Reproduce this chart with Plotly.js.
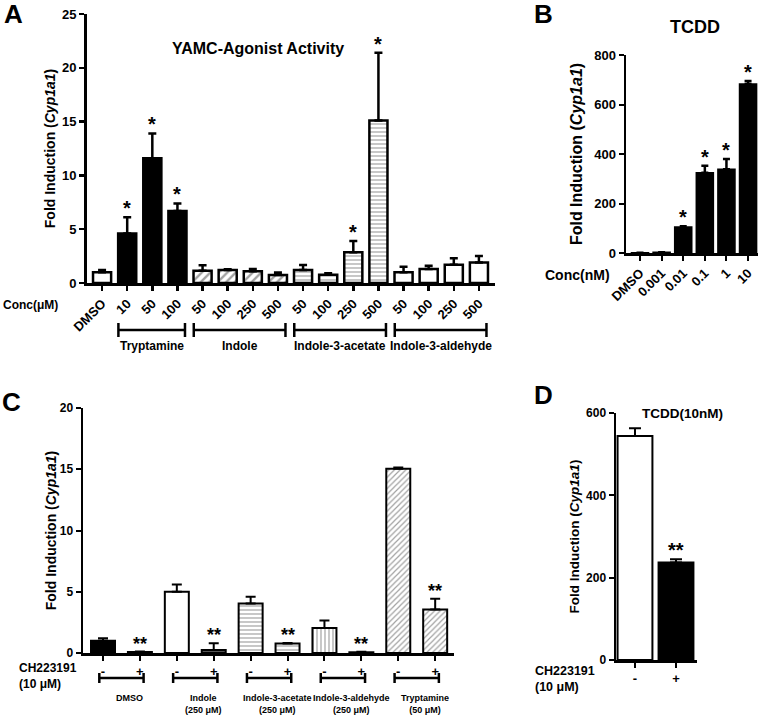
<!DOCTYPE html>
<html><head><meta charset="utf-8">
<script src="https://cdn.plot.ly/plotly-3.0.1.min.js"></script>
<style>html,body{margin:0;padding:0;background:#fff}#chart{width:763px;height:715px}</style>
</head><body><div id="chart"></div>
<script>
// ---------- Panel A data ----------
const aTickLabels = ['DMSO','10','50','100','50','100','250','500','50','100','250','500','50','100','250','500'];
const aGroups = ['DMSO','Tryptamine','Tryptamine','Tryptamine','Indole','Indole','Indole','Indole',
  'Indole-3-acetate','Indole-3-acetate','Indole-3-acetate','Indole-3-acetate',
  'Indole-3-aldehyde','Indole-3-aldehyde','Indole-3-aldehyde','Indole-3-aldehyde'];
const aValues = [1.0, 4.6, 11.6, 6.7, 1.15, 1.2, 1.1, 0.75, 1.2, 0.77, 2.85, 15.1, 1.0, 1.3, 1.7, 1.9];
const aErrors = [0.2, 1.5, 2.3, 0.7, 0.5, 0.07, 0.2, 0.22, 0.47, 0.13, 1.05, 6.3, 0.5, 0.3, 0.6, 0.6];
const aStars = ['', '*', '*', '*', '', '', '', '', '', '', '*', '*', '', '', '', ''];
const aBracketGroups = ['Tryptamine','Indole','Indole-3-acetate','Indole-3-aldehyde'];

// ---------- Panel B data ----------
const bTickLabels = ['DMSO','0.001','0.01','0.1','1','10'];
const bValues = [1, 3, 105, 324, 338, 683];
const bErrors = [0, 0, 3, 29, 42, 12];
const bStars = ['', '', '*', '*', '*', '*'];

// ---------- Panel C data ----------
const cTickLabels = ['-','+','-','+','-','+','-','+','-','+'];
const cGroups = ['DMSO','DMSO','Indole','Indole','Indole-3-acetate','Indole-3-acetate',
  'Indole-3-aldehyde','Indole-3-aldehyde','Tryptamine','Tryptamine'];
const cValues = [1.0, 0.08, 5.0, 0.25, 4.04, 0.78, 2.05, 0.06, 15.05, 3.55];
const cErrors = [0.2, 0.04, 0.6, 0.55, 0.55, 0.04, 0.6, 0.05, 0.1, 0.88];
const cStars = ['', '**', '', '**', '', '**', '', '**', '', '**'];
const cGroupNames = ['DMSO','Indole','Indole-3-acetate','Indole-3-aldehyde','Tryptamine'];
const cGroupConc = ['', '(250 μM)', '(250 μM)', '(250 μM)', '(50 μM)'];

// ---------- Panel D data ----------
const dTickLabels = ['-','+'];
const dValues = [544, 237];
const dErrors = [19, 8];
const dStars = ['', '**'];

// ---------- styles ----------
const W = 763, H = 715;
const px = v => v / W, py = v => 1 - v / H;
const FONT = 'Arial, "Liberation Sans", sans-serif';
const aStyle = {
  'DMSO': {color:'white', shape:'', size:6, sol:0.3},
  'Tryptamine': {color:'black', shape:'', size:6, sol:0.3},
  'Indole': {color:'white', shape:'/', size:6, sol:0.4},
  'Indole-3-acetate': {color:'white', shape:'-', size:4, sol:0.3},
  'Indole-3-aldehyde': {color:'white', shape:'', size:6, sol:0.3}
};
const cStyleMinus = {
  'DMSO': {color:'black', shape:''},
  'Indole': {color:'white', shape:''},
  'Indole-3-acetate': {color:'white', shape:'-'},
  'Indole-3-aldehyde': {color:'white', shape:'|'},
  'Tryptamine': {color:'white', shape:'/'}
};
const cStylePlus = Object.assign({}, cStyleMinus, {'Indole': {color:'#555', shape:''}});

const idx = arr => arr.map((_, i) => i);
const zeros = arr => arr.map(() => 0);

function errBar(errs, th, w) {
  return {type:'data', symmetric:false, array:errs, arrayminus:zeros(errs), color:'black', thickness:th, width:w, visible:true};
}

const traceA = {
  type:'bar', x: idx(aValues), y: aValues, xaxis:'x', yaxis:'y', width:0.72,
  marker:{color: aGroups.map(g => aStyle[g].color), line:{color:'black', width:2.5},
    pattern:{shape: aGroups.map(g => aStyle[g].shape), fillmode:'overlay', fgcolor:'black',
      size: aGroups.map(g => aStyle[g].size), solidity: aGroups.map(g => aStyle[g].sol)}},
  error_y: errBar(aErrors, 2.5, 4), showlegend:false
};
const traceB = {
  type:'bar', x: idx(bValues), y: bValues, xaxis:'x2', yaxis:'y2', width:0.79,
  marker:{color:'black', line:{color:'black', width:1.5}},
  error_y: errBar(bErrors, 2.5, 3.5), showlegend:false
};
const cStyles = cGroups.map((g, i) => (i % 2 === 0 ? cStyleMinus : cStylePlus)[g]);
const traceC = {
  type:'bar', x: idx(cValues), y: cValues, xaxis:'x3', yaxis:'y3', width:0.65,
  marker:{color: cStyles.map(s => s.color), line:{color:'black', width:2},
    pattern:{shape: cStyles.map(s => s.shape), fillmode:'overlay', fgcolor:'black', size:4, solidity:0.3}},
  error_y: errBar(cErrors, 2, 5), showlegend:false
};
const traceD = {
  type:'bar', x: idx(dValues), y: dValues, xaxis:'x4', yaxis:'y4', width:0.85,
  marker:{color:['white','black'], line:{color:'black', width:2}},
  error_y: errBar(dErrors, 2, 6), showlegend:false
};

const titleText = 'Fold Induction (<i>Cyp1a1</i>)';
function yax(domain, range, dtick, lw, fs, tfs, standoff) {
  return {domain, range, dtick, showgrid:false, zeroline:false, showline:true, linecolor:'black', linewidth:lw,
    ticks:'outside', ticklen:5, tickwidth:lw - 0.5, tickcolor:'black', automargin:false, fixedrange:true,
    tickfont:{family:FONT, size:fs, color:'black', weight:'bold'},
    title:{text:titleText, standoff, font:{family:FONT, size:tfs, color:'black', weight:'bold'}}};
}
function xax(domain, range, vals, texts, angle, lw, fs, anchor) {
  return {domain, range, tickvals:vals, ticktext:texts, tickangle:angle, showgrid:false, zeroline:false,
    showline:true, linecolor:'black', linewidth:lw, ticks:'outside', ticklen:5, tickwidth:lw - 0.5,
    tickcolor:'black', automargin:false, fixedrange:true, anchor,
    tickfont:{family:FONT, size:fs, color:'black', weight:'bold'}};
}

const layout = {
  width:W, height:H, margin:{l:0, r:0, t:0, b:0}, paper_bgcolor:'white', plot_bgcolor:'white',
  showlegend:false, bargap:0,
  xaxis:  xax([px(87), px(495)], [-0.6, 15.64], idx(aValues), aTickLabels, -45, 3, 13, 'y'),
  yaxis:  yax([py(283), py(14)], [0, 25], 5, 3, 13, 14, 4),
  xaxis2: xax([px(626), px(758)], [-0.648, 5.46], idx(bValues), bTickLabels, -45, 2.5, 13, 'y2'),
  yaxis2: yax([py(253), py(55)], [0, 800], 200, 2.5, 13, 16, 8),
  xaxis3: xax([px(83), px(454)], [-0.542, 9.51], idx(cValues), cTickLabels, 0, 2.5, 13, 'y3'),
  yaxis3: yax([py(653), py(408)], [0, 20], 5, 2.5, 12, 14, 0),
  xaxis4: xax([px(616), px(697)], [-0.463, 1.512], idx(dValues), dTickLabels, 0, 2.5, 13, 'y4'),
  yaxis4: yax([py(660), py(413)], [0, 600], 200, 2.5, 12, 13.5, 4),
  annotations: [], shapes: []
};
layout.yaxis2.anchor = 'x2'; layout.yaxis3.anchor = 'x3'; layout.yaxis4.anchor = 'x4';

function ann(text, x, y, size, extra) {
  return Object.assign({text, x:px(x), y:py(y), xref:'paper', yref:'paper', showarrow:false,
    xanchor:'center', yanchor:'middle', font:{family:FONT, size, color:'black', weight:'bold'}}, extra || {});
}
const A = layout.annotations, S = layout.shapes;
A.push(ann('A', 13, 14, 26), ann('B', 543, 14, 26), ann('C', 12, 402, 26), ann('D', 543, 395, 26));
A.push(ann('YAMC-Agonist Activity', 258, 49, 16));
A.push(ann('TCDD', 695, 27, 18));
A.push(ann('TCDD(10nM)', 682, 413, 13.5));
A.push(ann('Conc(μM)', 31, 305, 12));
A.push(ann('Conc(nM)', 577, 275, 14));
A.push(ann('CH223191<br>(10 μM)', 17, 676, 12, {xanchor:'left', align:'left'}));
A.push(ann('CH223191<br>(10 μM)', 533, 679, 12.5, {xanchor:'left', align:'left'}));

function stars(list, vals, errs, xr, yr, size, shift) {
  list.forEach((s, i) => {
    if (!s) return;
    A.push({text:s, x:i, y:vals[i] + errs[i], xref:xr, yref:yr, showarrow:false, xanchor:'center',
      yanchor:'bottom', yshift:shift, font:{family:FONT, size, color:'black', weight:'bold'}});
  });
}
stars(aStars, aValues, aErrors, 'x', 'y', 20, -4);
stars(bStars, bValues, bErrors, 'x2', 'y2', 20, -4);
stars(cStars, cValues, cErrors, 'x3', 'y3', 18, -4);
stars(dStars, dValues, dErrors, 'x4', 'y4', 20, -4);

function bracket(xr, x0, x1, yPx, capPx, lw) {
  S.push({type:'line', xref:xr, yref:'paper', x0, x1, y0:py(yPx), y1:py(yPx), line:{color:'black', width:lw}});
  S.push({type:'line', xref:xr, yref:'paper', x0, x1:x0, y0:py(yPx - capPx), y1:py(yPx + capPx), line:{color:'black', width:lw}});
  S.push({type:'line', xref:xr, yref:'paper', x0:x1, x1, y0:py(yPx - capPx), y1:py(yPx + capPx), line:{color:'black', width:lw}});
}
aBracketGroups.forEach(g => {
  const first = aGroups.indexOf(g), last = aGroups.lastIndexOf(g);
  const x0 = first - 0.35, x1 = last + 0.3;
  bracket('x', x0, x1, 330, 7, 2.5);
  A.push({text:g, x:(x0 + x1) / 2, y:py(346), xref:'x', yref:'paper', showarrow:false, xanchor:'center',
    yanchor:'middle', font:{family:FONT, size:12, color:'black', weight:'bold'}});
});
cGroupNames.forEach((g, k) => {
  const x0 = 2 * k - 0.1, x1 = 2 * k + 1.1;
  bracket('x3', x0, x1, 678, 5, 2.5);
  const t = cGroupConc[k] ? g + '<br>' + cGroupConc[k] : g;
  A.push({text:t, x:(x0 + x1) / 2 + 0.22, y:py(691), xref:'x3', yref:'paper', showarrow:false, xanchor:'center',
    yanchor:'top', font:{family:FONT, size:9, color:'black', weight:'bold'}});
});

Plotly.newPlot('chart', [traceA, traceB, traceC, traceD], layout, {staticPlot:true, displayModeBar:false});
</script></body></html>
